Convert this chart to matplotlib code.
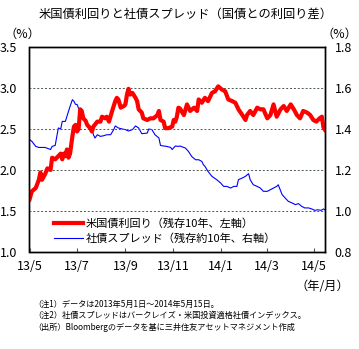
import matplotlib
matplotlib.use("Agg")
import matplotlib.pyplot as plt
import pandas as pd

plt.rcParams['font.family'] = ['Noto Sans CJK JP', 'DejaVu Sans']

title = "米国債利回りと社債スプレッド（国債との利回り差）"
label_red = "米国債利回り（残存10年、左軸）"
label_blue = "社債スプレッド（残存約10年、右軸）"
notes = ["（注1）データは2013年5月1日～2014年5月15日。",
         "（注2）社債スプレッドはバークレイズ・米国投資適格社債インデックス。",
         "（出所）Bloombergのデータを基に三井住友アセットマネジメント作成"]

red_dates = ["2013-05-01", "2013-05-04", "2013-05-09", "2013-05-13", "2013-05-15", "2013-05-17",
             "2013-05-21", "2013-05-24", "2013-05-28", "2013-05-30", "2013-06-03", "2013-06-07",
             "2013-06-10", "2013-06-12", "2013-06-14", "2013-06-16", "2013-06-18", "2013-06-20",
             "2013-06-22", "2013-06-25", "2013-06-27", "2013-06-29", "2013-07-01", "2013-07-03",
             "2013-07-05", "2013-07-07", "2013-07-09", "2013-07-12", "2013-07-14", "2013-07-18",
             "2013-07-20", "2013-07-22", "2013-07-27", "2013-07-31", "2013-08-02", "2013-08-06",
             "2013-08-08", "2013-08-11", "2013-08-15", "2013-08-19", "2013-08-21", "2013-08-23",
             "2013-08-26", "2013-08-30", "2013-09-01", "2013-09-03", "2013-09-05", "2013-09-07",
             "2013-09-10", "2013-09-14", "2013-09-16", "2013-09-18", "2013-09-22", "2013-09-24",
             "2013-09-29", "2013-10-03", "2013-10-07", "2013-10-12", "2013-10-14", "2013-10-16",
             "2013-10-20", "2013-10-22", "2013-10-26", "2013-10-31", "2013-11-02", "2013-11-04",
             "2013-11-06", "2013-11-08", "2013-11-10", "2013-11-15", "2013-11-19", "2013-11-23",
             "2013-11-28", "2013-12-02", "2013-12-04", "2013-12-08", "2013-12-12", "2013-12-16",
             "2013-12-21", "2013-12-25", "2013-12-29", "2014-01-03", "2014-01-07", "2014-01-11",
             "2014-01-16", "2014-01-20", "2014-01-24", "2014-01-29", "2014-02-02", "2014-02-04",
             "2014-02-08", "2014-02-12", "2014-02-17", "2014-02-21", "2014-02-25", "2014-03-02",
             "2014-03-06", "2014-03-10", "2014-03-14", "2014-03-19", "2014-03-23", "2014-03-27",
             "2014-04-01", "2014-04-05", "2014-04-09", "2014-04-13", "2014-04-17", "2014-04-22",
             "2014-04-26", "2014-04-30", "2014-05-04", "2014-05-08", "2014-05-11", "2014-05-13",
             "2014-05-15"]
red_values = [1.64, 1.74, 1.78, 1.88, 1.97, 1.88,
              1.95, 2.02, 2.00, 2.15, 2.13, 2.17,
              2.20, 2.13, 2.20, 2.17, 2.25, 2.15,
              2.20, 2.41, 2.53, 2.55, 2.47, 2.50,
              2.74, 2.72, 2.63, 2.60, 2.55, 2.51,
              2.47, 2.53, 2.59, 2.59, 2.65, 2.63,
              2.65, 2.59, 2.72, 2.84, 2.88, 2.86,
              2.76, 2.78, 2.80, 2.92, 2.99, 2.92,
              2.94, 2.88, 2.84, 2.74, 2.70, 2.63,
              2.61, 2.63, 2.63, 2.67, 2.72, 2.61,
              2.59, 2.51, 2.51, 2.53, 2.61, 2.59,
              2.65, 2.76, 2.75, 2.67, 2.80, 2.72,
              2.76, 2.72, 2.86, 2.82, 2.88, 2.84,
              2.94, 2.96, 3.02, 2.98, 2.96, 2.86,
              2.84, 2.82, 2.74, 2.67, 2.61, 2.67,
              2.72, 2.67, 2.76, 2.74, 2.74, 2.63,
              2.67, 2.80, 2.65, 2.74, 2.78, 2.72,
              2.80, 2.74, 2.67, 2.63, 2.72, 2.70,
              2.67, 2.61, 2.59, 2.63, 2.65, 2.52,
              2.49]

blue_dates = ["2013-05-01", "2013-05-04", "2013-05-09", "2013-05-13", "2013-05-17", "2013-05-21",
              "2013-05-28", "2013-05-30", "2013-06-03", "2013-06-05", "2013-06-07", "2013-06-10",
              "2013-06-12", "2013-06-16", "2013-06-20", "2013-06-22", "2013-06-25", "2013-06-27",
              "2013-06-29", "2013-07-01", "2013-07-03", "2013-07-05", "2013-07-07", "2013-07-09",
              "2013-07-12", "2013-07-14", "2013-07-16", "2013-07-18", "2013-07-20", "2013-07-22",
              "2013-07-24", "2013-07-27", "2013-07-31", "2013-08-04", "2013-08-08", "2013-08-13",
              "2013-08-17", "2013-08-19", "2013-08-23", "2013-08-28", "2013-09-01", "2013-09-05",
              "2013-09-10", "2013-09-14", "2013-09-18", "2013-09-22", "2013-09-29", "2013-10-01",
              "2013-10-05", "2013-10-09", "2013-10-14", "2013-10-16", "2013-10-20", "2013-10-24",
              "2013-10-29", "2013-10-31", "2013-11-04", "2013-11-08", "2013-11-10", "2013-11-17",
              "2013-11-21", "2013-11-25", "2013-11-30", "2013-12-04", "2013-12-08", "2013-12-10",
              "2013-12-12", "2013-12-16", "2013-12-21", "2013-12-27", "2014-01-01", "2014-01-05",
              "2014-01-09", "2014-01-14", "2014-01-18", "2014-01-22", "2014-01-24", "2014-01-29",
              "2014-02-02", "2014-02-06", "2014-02-08", "2014-02-12", "2014-02-17", "2014-02-21",
              "2014-02-25", "2014-03-02", "2014-03-06", "2014-03-10", "2014-03-14", "2014-03-16",
              "2014-03-21", "2014-03-25", "2014-03-29", "2014-04-03", "2014-04-07", "2014-04-11",
              "2014-04-15", "2014-04-19", "2014-04-24", "2014-04-28", "2014-05-02", "2014-05-06",
              "2014-05-10", "2014-05-13", "2014-05-15"]
blue_values = [1.348, 1.34, 1.315, 1.31, 1.31, 1.31,
               1.30, 1.315, 1.32, 1.364, 1.405, 1.40,
               1.437, 1.437, 1.486, 1.51, 1.543, 1.535,
               1.52, 1.52, 1.50, 1.49, 1.47, 1.45,
               1.44, 1.42, 1.41, 1.405, 1.40, 1.372,
               1.356, 1.372, 1.364, 1.367, 1.372, 1.372,
               1.397, 1.415, 1.405, 1.40, 1.397, 1.39,
               1.397, 1.415, 1.405, 1.377, 1.38, 1.40,
               1.397, 1.372, 1.356, 1.32, 1.317, 1.315,
               1.31, 1.30, 1.317, 1.315, 1.317, 1.307,
               1.29, 1.266, 1.25, 1.25, 1.242, 1.226,
               1.218, 1.193, 1.169, 1.153, 1.137, 1.12,
               1.12, 1.112, 1.12, 1.12, 1.153, 1.161,
               1.169, 1.182, 1.153, 1.128, 1.12, 1.112,
               1.096, 1.096, 1.104, 1.112, 1.12, 1.128,
               1.08, 1.063, 1.047, 1.039, 1.031, 1.036,
               1.023, 1.015, 1.015, 1.01, 1.003, 1.006,
               1.003, 1.01, 1.005]

left_ticks = [1.0, 1.5, 2.0, 2.5, 3.0, 3.5]
right_ticks = [0.8, 1.0, 1.2, 1.4, 1.6, 1.8]
x_ticks = ["2013-05-01", "2013-07-01", "2013-09-01", "2013-11-01", "2014-01-01", "2014-03-01", "2014-05-01"]
x_ticklabels = ["13/5", "13/7", "13/9", "13/11", "14/1", "14/3", "14/5"]

W, H = 359, 349
fig = plt.figure(figsize=(W / 100, H / 100), dpi=100)
ax = fig.add_axes([29.5 / W, 1 - 252 / H, (325 - 29.5) / W, (252 - 47) / H])
ax2 = ax.twinx()

rd = pd.to_datetime(red_dates)
bd = pd.to_datetime(blue_dates)

l2, = ax2.plot(bd, blue_values, color='#0000ff', lw=0.8, label=label_blue)
l1, = ax.plot(rd, red_values, color='#ff0000', lw=3.0, label=label_red, solid_joinstyle='round')
ax.set_zorder(ax2.get_zorder() + 1)
ax.patch.set_visible(False)

ax.set_xlim(pd.Timestamp("2013-05-01"), pd.Timestamp("2014-05-15"))
ax.set_ylim(1.0, 3.5)
ax2.set_ylim(0.8, 1.8)
ax.set_yticks(left_ticks)
ax.set_yticklabels([f"{v:.1f}" for v in left_ticks])
ax2.set_yticks(right_ticks)
ax2.set_yticklabels([f"{v:.1f}" for v in right_ticks])
ax.set_xticks(pd.to_datetime(x_ticks))
ax.set_xticklabels(x_ticklabels)

for v in left_ticks[1:-1]:
    ax.axhline(v, color='#4a5a4a', lw=0.7, ls=(0, (2, 2)), zorder=0)

ax.tick_params(axis='y', length=0, labelsize=9, pad=9, colors='black')
ax2.tick_params(axis='y', length=0, labelsize=9, pad=7)
ax.tick_params(axis='x', direction='in', length=3, width=0.8, labelsize=9, pad=6, color='#555555')
for s in list(ax.spines.values()) + list(ax2.spines.values()):
    s.set_linewidth(1.0)
    s.set_color('black')

fig.text(186 / W, 1 - 14 / H, title, ha='center', va='center', fontsize=8.8)
fig.text(22 / W, 1 - 34 / H, "（%）", ha='center', va='center', fontsize=8.8)
fig.text(339 / W, 1 - 34 / H, "（%）", ha='center', va='center', fontsize=8.8)
fig.text(349 / W, 1 - 287 / H, "（年/月）", ha='right', va='center', fontsize=8.8)
for i, n in enumerate(notes):
    fig.text(33 / W, 1 - (304 + i * 11.5) / H, n, ha='left', va='center', fontsize=5.9)

leg = ax.legend(handles=[l1, l2], loc='lower left', bbox_to_anchor=(20 / (325 - 29.5), 0.02),
                frameon=False, fontsize=8, handlelength=2.6, handletextpad=0.25,
                labelspacing=0.35, borderaxespad=0)

fig.savefig("out.png", dpi=100)
